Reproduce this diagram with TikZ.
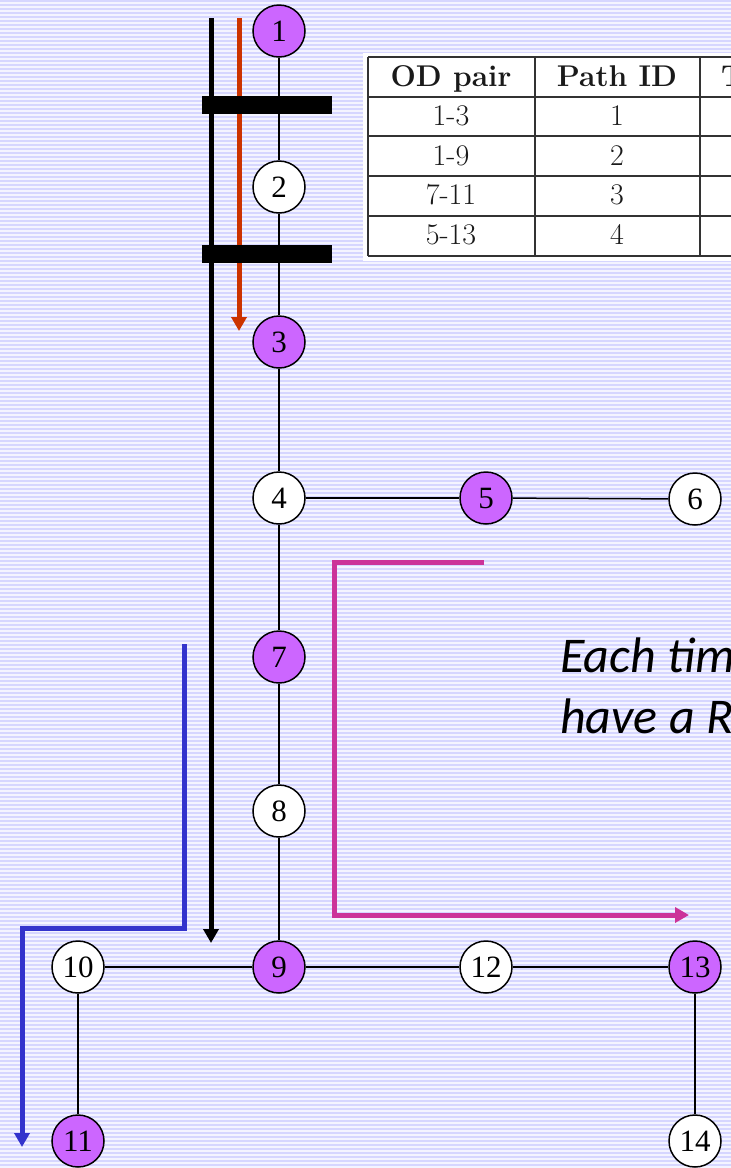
\documentclass[tikz,border=0pt]{standalone}
\usepackage{fontspec}
\newfontfamily\nodefont{Liberation Serif}
\newfontfamily\notefont{Carlito}
\usetikzlibrary{arrows.meta}
\definecolor{stripeA}{HTML}{F4F4FF}
\definecolor{stripeB}{HTML}{D6D6FF}
\definecolor{nodepurple}{HTML}{CC66FF}
\definecolor{pathred}{HTML}{CC3300}
\definecolor{pathblue}{HTML}{3333CC}
\definecolor{pathmag}{HTML}{CC3399}
\definecolor{tableline}{HTML}{333333}
\definecolor{tabletext}{HTML}{1A1A1A}
\begin{document}
\begin{tikzpicture}[x=1pt,y=-1pt,
  vertex/.style={circle,draw=black,line width=1.5pt,minimum size=52pt,inner sep=0pt,font=\nodefont\fontsize{31}{31}\selectfont},
  od/.style={vertex,fill=nodepurple},
  plain/.style={vertex,fill=white},
  link/.style={line width=1.5pt},
  flow/.style={line width=5pt,-{Triangle[length=14pt,width=15pt]}},
  bar/.style={fill=black},
  rule/.style={draw=tableline,line width=1.5pt},
  cell/.style={anchor=base,inner sep=0pt,text=tabletext,font=\fontsize{30}{30}\selectfont},
  head/.style={cell,font=\fontsize{30}{30}\selectfont\bfseries},
  note/.style={anchor=base west,inner sep=0pt,font=\notefont\itshape\fontsize{50}{50}\selectfont}
]
\useasboundingbox (0,0) rectangle (731,1168);
\begin{scope}
\clip (0,0) rectangle (731,1168);
% background stripes
\fill[stripeA] (0,0) rectangle (731,1168);
\foreach \y in {0,4,...,1168} \fill[stripeB] (0,\y) rectangle (731,\y+2);

% table
\fill[white] (363,53) rectangle (740,261);
\draw[rule] (368,57) -- (740,57);
\draw[rule] (368,97) -- (740,97);
\draw[rule] (368,136) -- (740,136);
\draw[rule] (368,176) -- (740,176);
\draw[rule] (368,216) -- (740,216);
\draw[rule] (368,256) -- (740,256);
\draw[rule] (368,57) -- (368,256);
\draw[rule] (535,57) -- (535,256);
\draw[rule] (700,57) -- (700,256);
\node[head] (h1) at (451,86) {OD pair};
\node[head] (h2) at (617,86) {Path ID};
\node[head,anchor=base west] (h3) at (721,86) {T};
\node[cell] (r11) at (451,125) {1-3};
\node[cell] (r12) at (617,125) {1};
\node[cell] (r21) at (451,165) {1-9};
\node[cell] (r22) at (617,165) {2};
\node[cell] (r31) at (451,204) {7-11};
\node[cell] (r32) at (617,204) {3};
\node[cell] (r41) at (451,244) {5-13};
\node[cell] (r42) at (617,244) {4};

% nodes
\node[od]    (n1)  at (279,31)   {1};
\node[plain] (n2)  at (279,187)  {2};
\node[od]    (n3)  at (279,342)  {3};
\node[plain] (n4)  at (279,498)  {4};
\node[od]    (n5)  at (486,498)  {5};
\node[plain] (n6)  at (695,499)  {6};
\node[od]    (n7)  at (279,657)  {7};
\node[plain] (n8)  at (279,811)  {8};
\node[od]    (n9)  at (279,967)  {9};
\node[plain] (n10) at (78,967)   {10};
\node[od]    (n11) at (78,1141)  {11};
\node[plain] (n12) at (486,967)  {12};
\node[od]    (n13) at (695,967)  {13};
\node[plain] (n14) at (695,1141) {14};

% links
\draw[link] (n1) -- (n2);
\draw[link] (n2) -- (n3);
\draw[link] (n3) -- (n4);
\draw[link] (n4) -- (n5);
\draw[link] (n5) -- (n6);
\draw[link] (n4) -- (n7);
\draw[link] (n7) -- (n8);
\draw[link] (n8) -- (n9);
\draw[link] (n10) -- (n9);
\draw[link] (n9) -- (n12);
\draw[link] (n12) -- (n13);
\draw[link] (n10) -- (n11);
\draw[link] (n13) -- (n14);

% flows
\coordinate (k0) at (211,18);
\coordinate (k1) at (211,943);
\draw[flow,black] (k0) -- (k1);
\coordinate (r0) at (239,18);
\coordinate (r1) at (239,331);
\draw[flow,pathred] (r0) -- (r1);
\coordinate (b0) at (184,644);
\coordinate (b1) at (184,928);
\coordinate (b2) at (22,928);
\coordinate (b3) at (22,1147);
\draw[flow,pathblue,line join=miter] (b0) -- (b1) -- (b2) -- (b3);
\coordinate (m0) at (484,562);
\coordinate (m1) at (334,562);
\coordinate (m2) at (334,915);
\coordinate (m3) at (689,915);
\draw[flow,pathmag,line join=miter] (m0) -- (m1) -- (m2) -- (m3);

% blocking bars
\fill[bar] (202,96) rectangle (332,114);
\fill[bar] (202,245) rectangle (332,263);

% note text
\node[note] (t1) at (560,672) {Each time};
\node[note] (t2) at (560,733) {have a R};
\end{scope}
\end{tikzpicture}
\end{document}
